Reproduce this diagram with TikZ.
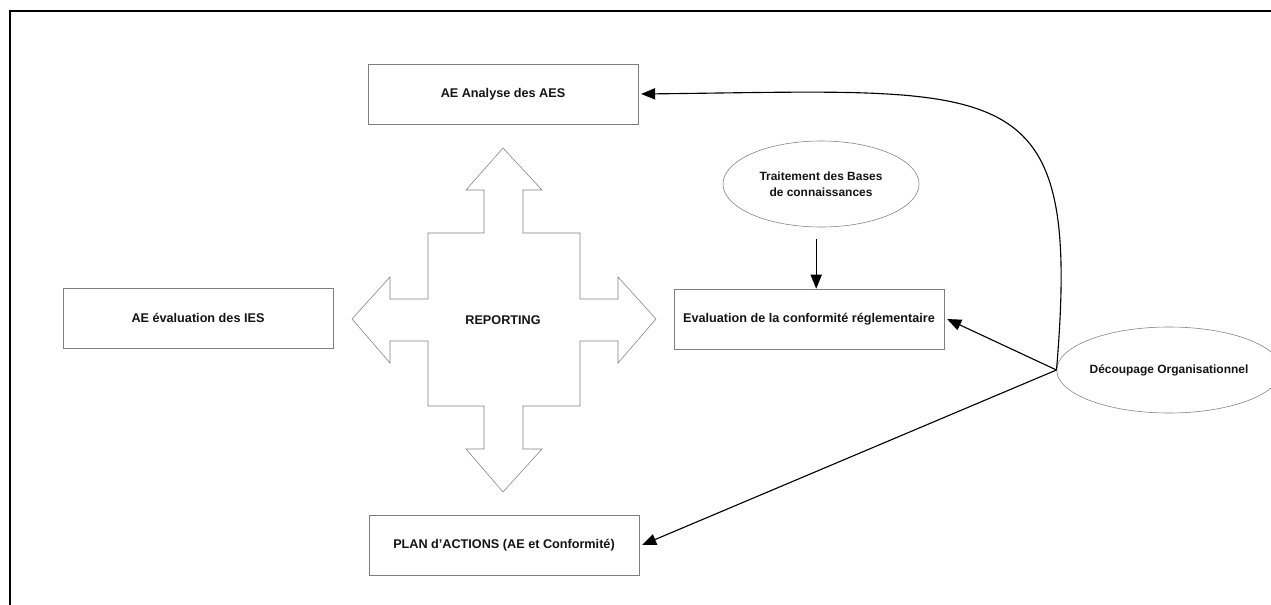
\documentclass[tikz,border=0pt]{standalone}
\usepackage{fontspec}
\setmainfont{Liberation Sans}
\usetikzlibrary{shapes.geometric, arrows.meta, positioning}
\definecolor{trait}{HTML}{7F7F7F}
\definecolor{texte}{HTML}{141414}

\begin{document}
\begin{tikzpicture}[
    x=0.025cm, y=-0.025cm,
    box/.style={draw=trait, rectangle, minimum width=6.75cm, minimum height=1.5cm, text=texte, font=\bfseries\fontsize{9}{11}\selectfont},
    bulle/.style={draw=trait, ellipse, minimum width=4.9cm, minimum height=2.15cm, inner sep=0pt, align=center, text=texte, font=\bfseries\fontsize{8.5}{11}\selectfont},
    arrow/.style={-{Triangle[length=10pt,width=8pt]}, thick}
]
\useasboundingbox (0,0) rectangle (1271,605);
% cadre
\draw[line width=1.4pt] (10,605) -- (10,11) -- (1271,11);

% boites
\node[box] (aes) at (503,94) {AE Analyse des AES};
\node[box] (ies) at (198,318) {AE évaluation des IES};
\node[box] (conf) at (809,319) {Evaluation de la conformité réglementaire};
\node[box] (plan) at (504,545) {PLAN d’ACTIONS (AE et Conformité)};

% ellipses
\node[bulle] (bases) at (821,184) {Traitement des Bases\\de connaissances};
\node[bulle] (decoup) at (1169,370) {Découpage Organisationnel};

% fleche a quatre branches
\draw[trait] (503,148) -- (542,190) -- (523,190) -- (523,233) -- (580,233) -- (580,299)
    -- (618,299) -- (618,277) -- (656,319) -- (618,363) -- (618,341) -- (580,341)
    -- (580,406) -- (523,406) -- (523,449) -- (542,449) -- (503,492) -- (466,449)
    -- (484,449) -- (484,406) -- (428,406) -- (428,341) -- (390,341) -- (390,363)
    -- (352,319) -- (390,277) -- (390,299) -- (428,299) -- (428,233) -- (484,233)
    -- (484,190) -- (466,190) -- cycle;
\node[text=texte, font=\bfseries\fontsize{9}{11}\selectfont] (rep) at (503,320) {REPORTING};

% liens
\draw[arrow, shorten <=8pt] ([xshift=-0.12cm]bases.south) -- ([xshift=-0.12cm]bases.south |- conf.north);
\draw[arrow] (decoup.west) .. controls (1082,70) and (1010,90) .. ([xshift=2pt]aes.east);
\draw[arrow] (decoup.west) -- ([xshift=2pt]conf.east);
\draw[arrow] (decoup.west) -- ([xshift=2pt]plan.east);
\end{tikzpicture}
\end{document}
